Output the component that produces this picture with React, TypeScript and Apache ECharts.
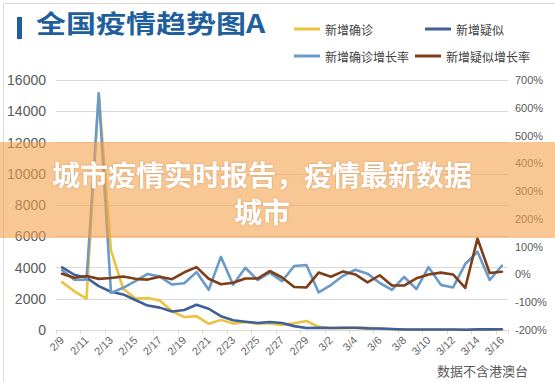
import React, { useEffect, useRef } from "react";
import * as echarts from "echarts";

const categories = [
  "2/9", "2/10", "2/11", "2/12", "2/13", "2/14", "2/15", "2/16", "2/17", "2/18",
  "2/19", "2/20", "2/21", "2/22", "2/23", "2/24", "2/25", "2/26", "2/27", "2/28",
  "2/29", "3/1", "3/2", "3/3", "3/4", "3/5", "3/6", "3/7", "3/8", "3/9",
  "3/10", "3/11", "3/12", "3/13", "3/14", "3/15", "3/16",
];

// 新增确诊
const confirmed = [
  3062, 2478, 2015, 15152, 5090, 2641, 2009, 2048, 1886, 1200,
  820, 889, 397, 648, 409, 508, 406, 433, 327, 427,
  573, 202, 125, 119, 139, 143, 99, 44, 40, 19,
  24, 15, 8, 11, 20, 16, 21,
];

// 新增疑似
const suspected = [
  4008, 3536, 3342, 2807, 2450, 2277, 1918, 1563, 1432, 1185,
  1277, 1614, 1361, 882, 620, 530, 452, 508, 452, 248,
  132, 141, 129, 143, 143, 102, 99, 60, 36, 31,
  31, 33, 33, 17, 39, 41, 45,
];

// 新增确诊增长率 (%)
const confirmedGrowth = [
  15.3, -19.1, -18.7, 652.0, -66.4, -48.1, -23.9, 1.9, -7.9, -36.4,
  -31.7, 8.4, -55.3, 63.2, -36.9, 24.2, -20.1, 6.7, -24.5, 30.6,
  34.2, -64.7, -38.1, -4.8, 16.8, 2.9, -30.8, -55.6, -9.1, -52.5,
  26.3, -37.5, -46.7, 37.5, 81.8, -20.0, 31.3,
];

// 新增疑似增长率 (%)
const suspectedGrowth = [
  2.3, -11.8, -5.5, -16.0, -12.7, -7.1, -15.8, -18.5, -8.4, -17.2,
  7.8, 26.4, -15.7, -35.2, -29.7, -14.5, -14.7, 12.4, -11.0, -45.1,
  -46.8, 6.8, -8.5, 10.9, 0.0, -28.7, -2.9, -39.4, -40.0, -13.9,
  0.0, 6.5, 0.0, -48.5, 129.4, 5.1, 9.8,
];

const seriesNames = ["新增确诊", "新增疑似", "新增确诊增长率", "新增疑似增长率"];
const seriesColors = ["#EBC33F", "#3E5F97", "#6A9BC8", "#7E3E17"];

const titleText = "全国疫情趋势图A";
const noteText = "数据不含港澳台";
const bannerText = "城市疫情实时报告，疫情最新数据\n城市";

const FONT = "'Liberation Sans', 'Noto Sans CJK SC', sans-serif";
const CJK = "'Noto Sans CJK SC', sans-serif";

export default function App() {
  const ref = useRef<HTMLDivElement>(null);

  useEffect(() => {
    document.body.style.margin = "0";
    if (!ref.current) return;
    const chart = echarts.init(ref.current, null, { renderer: "svg" });

    const lineSeries = (name: string, data: number[], color: string, yAxisIndex: number) => ({
      name,
      type: "line",
      data,
      yAxisIndex,
      showSymbol: false,
      symbol: "none",
      lineStyle: { color, width: 2.6, cap: "round", join: "round" },
      itemStyle: { color },
    });

    chart.setOption({
      animation: false,
      backgroundColor: "#ffffff",
      grid: { left: 56, right: 47, top: 80, bottom: 52, containLabel: false },
      legend: [
        {
          data: [seriesNames[0], seriesNames[1]],
          left: 289,
          top: 18,
          itemWidth: 26,
          itemHeight: 3,
          icon: "rect",
          itemGap: 52,
          textStyle: { fontSize: 12, color: "#404040", fontFamily: CJK },
        },
        {
          data: [seriesNames[2], seriesNames[3]],
          left: 289,
          top: 45,
          itemWidth: 26,
          itemHeight: 3,
          icon: "rect",
          itemGap: 6,
          textStyle: { fontSize: 12, color: "#404040", fontFamily: CJK },
        },
      ],
      xAxis: {
        type: "category",
        data: categories,
        boundaryGap: true,
        axisLine: { show: true, lineStyle: { color: "#D9D9D9", width: 1 } },
        axisTick: { show: true, interval: 1, length: 4, lineStyle: { color: "#D9D9D9" } },
        axisLabel: {
          interval: 1,
          rotate: 45,
          fontSize: 11,
          color: "#666666",
          fontFamily: FONT,
          margin: 8,
        },
        splitLine: { show: false },
      },
      yAxis: [
        {
          type: "value",
          min: 0,
          max: 16000,
          interval: 2000,
          axisLine: { show: false },
          axisTick: { show: false },
          axisLabel: {
            fontSize: 14,
            color: "#595959",
            fontFamily: FONT,
            margin: 10,
            formatter: (v: number) => String(v),
          },
          splitLine: { show: true, lineStyle: { color: "#D9D9D9", width: 1 } },
        },
        {
          type: "value",
          min: -200,
          max: 700,
          interval: 100,
          axisLine: { show: false },
          axisTick: { show: false },
          axisLabel: {
            fontSize: 11,
            color: "#595959",
            fontFamily: FONT,
            margin: 7,
            formatter: "{value}%",
          },
          splitLine: { show: false },
        },
      ],
      series: [
        lineSeries(seriesNames[0], confirmed, seriesColors[0], 0),
        lineSeries(seriesNames[1], suspected, seriesColors[1], 0),
        lineSeries(seriesNames[2], confirmedGrowth, seriesColors[2], 1),
        lineSeries(seriesNames[3], suspectedGrowth, seriesColors[3], 1),
      ],
      graphic: [
        {
          type: "rect",
          left: 1,
          top: 1,
          shape: { width: 552, height: 379 },
          style: { fill: "none", stroke: "#D9D9D9", lineWidth: 1 },
          silent: true,
          z: -1,
        },
        {
          type: "rect",
          left: 17,
          top: 17,
          shape: { width: 5, height: 22 },
          style: { fill: "#1F5F9E" },
          silent: true,
        },
        {
          type: "text",
          left: 36,
          top: 10,
          scaleX: 1.2,
          style: {
            text: titleText,
            fill: "#1F5F9E",
            font: "bold 25px " + CJK,
          },
          silent: true,
        },
        {
          type: "text",
          left: 437,
          top: 364,
          style: { text: noteText, fill: "#595959", font: "13px " + CJK },
          silent: true,
        },
        {
          type: "rect",
          left: 0,
          top: 142,
          shape: { width: 555, height: 96 },
          style: { fill: "rgba(243,162,76,0.6)" },
          silent: true,
          z: 100,
        },
        {
          type: "text",
          x: 262,
          y: 192,
          style: {
            text: bannerText,
            fill: "#ffffff",
            font: "bold 28px " + CJK,
            lineHeight: 37,
            align: "center",
            verticalAlign: "middle",
            textShadowColor: "rgba(150,80,20,0.35)",
            textShadowBlur: 2,
          },
          silent: true,
          z: 101,
        },
      ],
    });

    return () => chart.dispose();
  }, []);

  return <div ref={ref} style={{ width: 555, height: 382 }} />;
}
